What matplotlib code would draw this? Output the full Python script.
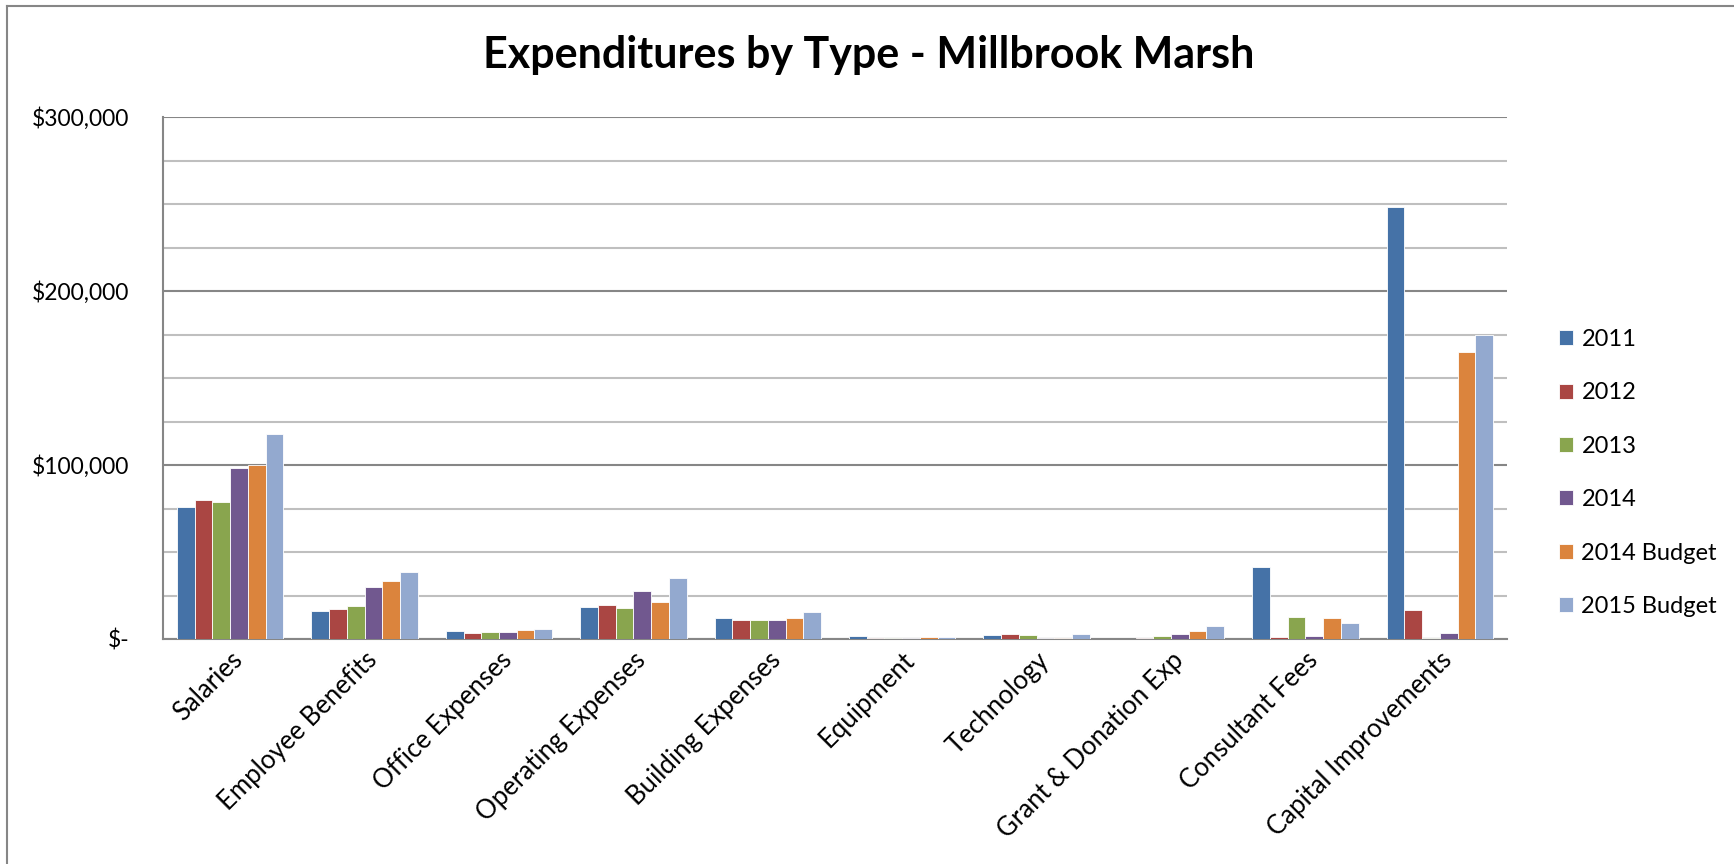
import matplotlib.pyplot as plt
import matplotlib.ticker as mticker
from matplotlib.lines import Line2D
import numpy as np

plt.rcParams['font.family'] = ['Lato', 'DejaVu Sans']

categories = ['Salaries', 'Employee Benefits', 'Office Expenses', 'Operating Expenses',
              'Building Expenses', 'Equipment', 'Technology', 'Grant & Donation Exp',
              'Consultant Fees', 'Capital Improvements']
series = ['2011', '2012', '2013', '2014', '2014 Budget', '2015 Budget']
colors = ['#4572A7', '#AA4643', '#89A54E', '#71588F', '#DB843D', '#93A9CF']

y2011 = [75800, 16300, 4600, 18500, 12100, 1500, 2100, -500, 41500, 248000]
y2012 = [80000, 17500, 3500, 19400, 11000, 600, 2700, 600, 1000, 16900]
y2013 = [78700, 19200, 3800, 17700, 11000, 300, 2500, 1700, 12700, 600]
y2014 = [98100, 30000, 4000, 27700, 11000, 300, 300, 2900, 1900, 3500]
y2014b = [100000, 33100, 5000, 21500, 12100, 1100, 500, 4800, 12100, 165000]
y2015b = [118100, 38300, 5600, 34800, 15600, 1000, 3100, 7500, 9200, 175000]
values = [y2011, y2012, y2013, y2014, y2014b, y2015b]

fig = plt.figure(figsize=(17.34, 8.64), dpi=100)
ax = fig.add_axes([163 / 1734, 1 - 639 / 864, 1344 / 1734, 522 / 864])

x = np.arange(len(categories))
w = 0.132
for i, (vals, name, c) in enumerate(zip(values, series, colors)):
    ax.bar(x - 2.5 * w + i * w, vals, w, color=c, edgecolor='white', linewidth=0.6,
           label=name, zorder=3)

ax.set_xlim(-0.5, len(categories) - 0.5)
ax.set_ylim(0, 300000)
ax.yaxis.set_major_locator(mticker.MultipleLocator(100000))
ax.yaxis.set_minor_locator(mticker.MultipleLocator(25000))
ax.yaxis.set_major_formatter(mticker.FuncFormatter(
    lambda v, p: '$-' if v == 0 else '${:,.0f}'.format(v)))
ax.grid(axis='y', which='minor', color='#BFBFBF', linewidth=1.5, zorder=0)
ax.grid(axis='y', which='major', color='#868686', linewidth=1.5, zorder=0)
ax.tick_params(axis='y', which='both', length=0, pad=24, labelsize=16.5)
ax.tick_params(axis='x', length=0, pad=6)
ax.set_xticks(x)
ax.set_xticklabels(categories, rotation=45, ha='right', rotation_mode='anchor', fontsize=18.5)

for s in ['top', 'right']:
    ax.spines[s].set_visible(False)
for s in ['left', 'bottom']:
    ax.spines[s].set_color('#868686')
    ax.spines[s].set_linewidth(1.5)

fig.text(869 / 1734, 1 - 55 / 864, 'Expenditures by Type - Millbrook Marsh',
         ha='center', va='center', fontsize=31, fontweight='bold')

# outer chart frame
fig.add_artist(Line2D([7 / 1734, 7 / 1734], [0, 1 - 6 / 864], color='#868686', linewidth=1.5))
fig.add_artist(Line2D([7 / 1734, 1], [1 - 6 / 864, 1 - 6 / 864], color='#868686', linewidth=1.5))

fig.legend(loc='center left', bbox_to_anchor=(1559 / 1734, 1 - 473 / 864), frameon=False,
           fontsize=17, labelspacing=1.37, handlelength=0.6, handleheight=0.6,
           handletextpad=0.35, borderpad=0, borderaxespad=0)

fig.savefig('out.png', dpi=100)
